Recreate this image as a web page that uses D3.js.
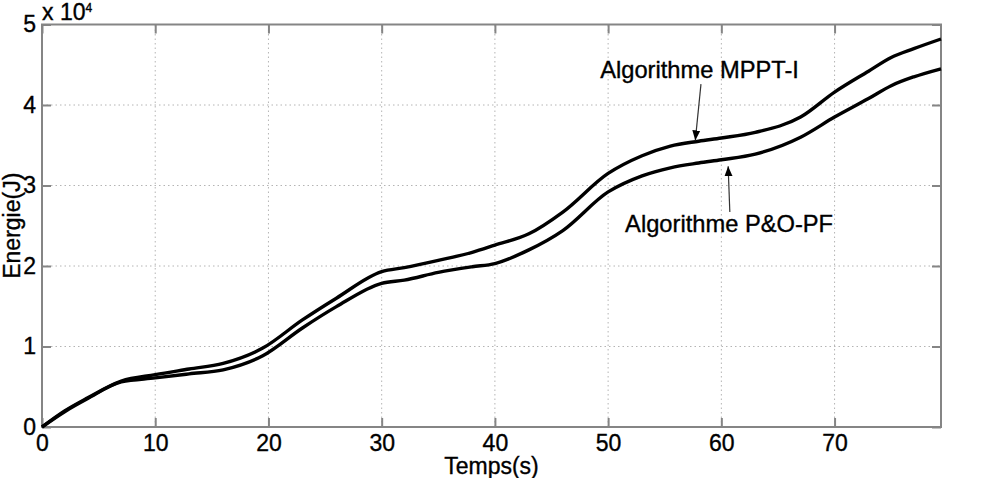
<!DOCTYPE html>
<html>
<head>
<meta charset="utf-8">
<script src="https://cdn.jsdelivr.net/npm/d3@7"></script>
<style>
  html, body { margin: 0; padding: 0; background: #fff; }
  svg text { font-family: 'Liberation Sans', Arial, sans-serif; fill: #000; stroke: #000; stroke-width: 0.35px; }
</style>
</head>
<body>
<div id="chart"></div>
<script>
// temps (s) et energie (x 10^4 J)
const time = [0, 2, 4, 7, 10, 13, 16, 19.5, 23, 26, 30, 32, 35, 38, 40, 43, 46, 50, 53, 55.5, 58, 60, 63, 67, 70, 73, 75, 77, 79.4];
const mpptI = [0, 0.2, 0.36, 0.57, 0.65, 0.72, 0.79, 0.98, 1.33, 1.6, 1.93, 1.98, 2.07, 2.17, 2.26, 2.4, 2.67, 3.15, 3.37, 3.49, 3.55, 3.59, 3.66, 3.85, 4.16, 4.42, 4.59, 4.7, 4.82];
const poPF = [0, 0.19, 0.35, 0.56, 0.61, 0.66, 0.71, 0.885, 1.23, 1.495, 1.785, 1.825, 1.92, 1.99, 2.03, 2.2, 2.44, 2.92, 3.12, 3.22, 3.28, 3.32, 3.39, 3.6, 3.85, 4.08, 4.24, 4.35, 4.45];

const xTicks = [0, 10, 20, 30, 40, 50, 60, 70];
const yTicks = [0, 1, 2, 3, 4, 5];

const annotations = [
  { text: 'Algorithme MPPT-I', tx: 49.3, ty: 4.33, from: [58.2, 4.26], to: [57.7, 3.56] },
  { text: 'Algorithme P&O-PF', tx: 51.5, ty: 2.42, from: [60.75, 2.67], to: [60.6, 3.24] },
];

const width = 988;
const height = 478;
const margin = {
  top: 24.5,
  right: 47,
  bottom: 51,
  left: 42,
};

const x = d3.scaleLinear()
  .domain([0, 79.4])
  .range([margin.left, width - margin.right]);

const y = d3.scaleLinear()
  .domain([0, 5])
  .range([height - margin.bottom, margin.top]);

const svg = d3.select('#chart').append('svg')
  .attr('width', width)
  .attr('height', height)
  .attr('viewBox', [0, 0, width, height]);

svg.append('rect')
  .attr('width', width)
  .attr('height', height)
  .attr('fill', '#fff');

/* GRID */

const grid = svg.append('g')
  .attr('stroke', '#b4b4b4')
  .attr('stroke-width', 1)
  .attr('stroke-dasharray', '1.5,3');

grid.selectAll('.vx')
  .data(xTicks.filter((d) => d > 0))
  .join('line')
  .attr('x1', (d) => x(d))
  .attr('x2', (d) => x(d))
  .attr('y1', y(0))
  .attr('y2', y(5));

grid.selectAll('.hy')
  .data(yTicks.filter((d) => d > 0 && d < 5))
  .join('line')
  .attr('x1', x(0))
  .attr('x2', x(79.4))
  .attr('y1', (d) => y(d))
  .attr('y2', (d) => y(d));

/* AXES */

const tickLen = 9;
const axisColor = '#858585';

const styleLabels = (sel) => sel
  .attr('font-size', 23)
  .attr('fill', '#000')
  .attr('font-family', "'Liberation Sans', Arial, sans-serif");

const xAxisBottom = (g) => g
  .attr('transform', `translate(0, ${y(0)})`)
  .call(d3.axisBottom(x).tickValues(xTicks).tickFormat(d3.format('d')).tickSize(-tickLen).tickPadding(8))
  .call(() => g.select('.domain').remove())
  .call(() => g.selectAll('.tick line').attr('stroke', axisColor).attr('stroke-width', 2))
  .call(() => g.selectAll('.tick text').call(styleLabels));

const xAxisTop = (g) => g
  .attr('transform', `translate(0, ${y(5)})`)
  .call(d3.axisTop(x).tickValues(xTicks).tickSize(-tickLen).tickFormat(''))
  .call(() => g.select('.domain').remove())
  .call(() => g.selectAll('.tick line').attr('stroke', axisColor).attr('stroke-width', 2));

const yAxisLeft = (g) => g
  .attr('transform', `translate(${x(0)}, 0)`)
  .call(d3.axisLeft(y).tickValues(yTicks).tickFormat(d3.format('d')).tickSize(-tickLen).tickPadding(6))
  .call(() => g.select('.domain').remove())
  .call(() => g.selectAll('.tick line').attr('stroke', axisColor).attr('stroke-width', 2))
  .call(() => g.selectAll('.tick text').call(styleLabels));

const yAxisRight = (g) => g
  .attr('transform', `translate(${x(79.4)}, 0)`)
  .call(d3.axisRight(y).tickValues(yTicks).tickSize(-tickLen).tickFormat(''))
  .call(() => g.select('.domain').remove())
  .call(() => g.selectAll('.tick line').attr('stroke', axisColor).attr('stroke-width', 2));

svg.append('g').call(xAxisBottom);
svg.append('g').call(xAxisTop);
svg.append('g').call(yAxisLeft);
svg.append('g').call(yAxisRight);

svg.append('rect')
  .attr('x', x(0))
  .attr('y', y(5))
  .attr('width', x(79.4) - x(0))
  .attr('height', y(0) - y(5))
  .attr('fill', 'none')
  .attr('stroke', axisColor)
  .attr('stroke-width', 2);

/* CURVES */

const line = d3.line()
  .x((d) => x(d[0]))
  .y((d) => y(d[1]))
  .curve(d3.curveMonotoneX);

[mpptI, poPF].forEach((serie) => {
  svg.append('path')
    .datum(time.map((t, i) => [t, serie[i]]))
    .attr('fill', 'none')
    .attr('stroke', '#000')
    .attr('stroke-width', 3.4)
    .attr('stroke-linejoin', 'round')
    .attr('d', line);
});

/* ANNOTATIONS */

svg.append('defs').append('marker')
  .attr('id', 'arrow')
  .attr('viewBox', '0 0 10 10')
  .attr('refX', 10)
  .attr('refY', 5)
  .attr('markerWidth', 10)
  .attr('markerHeight', 10)
  .attr('markerUnits', 'userSpaceOnUse')
  .attr('orient', 'auto')
  .append('path')
  .attr('d', 'M0,1 L10,5 L0,9 Z')
  .attr('fill', '#000');

annotations.forEach((a) => {
  svg.append('line')
    .attr('x1', x(a.from[0]))
    .attr('y1', y(a.from[1]))
    .attr('x2', x(a.to[0]))
    .attr('y2', y(a.to[1]))
    .attr('stroke', '#333')
    .attr('stroke-width', 1.2)
    .attr('marker-end', 'url(#arrow)');

  svg.append('text')
    .attr('x', x(a.tx))
    .attr('y', y(a.ty))
    .attr('font-size', 23.7)
    .text(a.text);
});

/* TITLES */

svg.append('text')
  .attr('x', (x(0) + x(79.4)) / 2)
  .attr('y', 474)
  .attr('text-anchor', 'middle')
  .attr('font-size', 23)
  .text('Temps(s)');

svg.append('text')
  .attr('transform', `translate(20, ${(y(0) + y(5)) / 2}) rotate(-90)`)
  .attr('text-anchor', 'middle')
  .attr('font-size', 23)
  .text('Energie(J)');

const expo = svg.append('text')
  .attr('x', 42)
  .attr('y', 20)
  .attr('font-size', 23);
expo.append('tspan').text('x 10');
expo.append('tspan')
  .attr('dy', -8)
  .attr('font-size', 12)
  .text('4');
</script>
</body>
</html>
